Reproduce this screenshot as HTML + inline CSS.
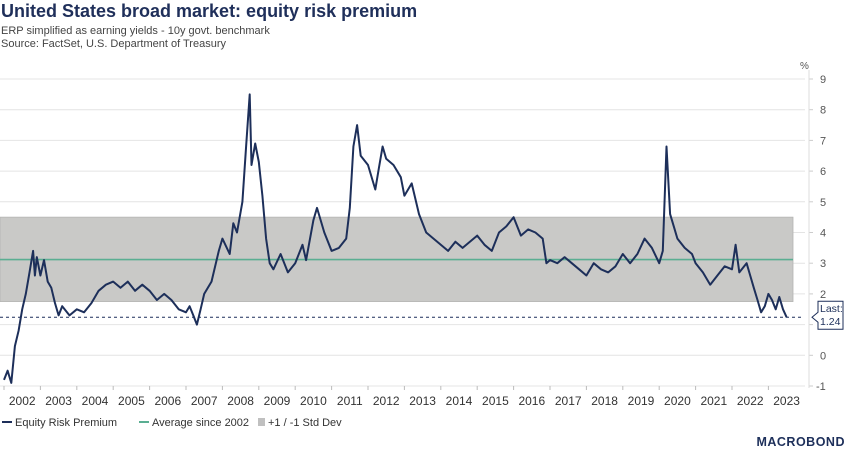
<!DOCTYPE html>
<html><head><meta charset="utf-8"><style>
body{margin:0;background:#fff;font-family:"Liberation Sans",sans-serif;}
#wrap{position:relative;width:850px;height:453px;overflow:hidden;}
.t{position:absolute;white-space:nowrap;}
</style></head><body>
<div id="wrap">
<div class="t" style="left:1px;top:1px;font-size:18px;font-weight:bold;color:#1f2f5a;">United States broad market: equity risk premium</div>
<div class="t" style="left:1px;top:25px;font-size:11px;color:#444;">ERP simplified as earning yields - 10y govt. benchmark</div>
<div class="t" style="left:1px;top:38px;font-size:11px;color:#444;">Source: FactSet, U.S. Department of Treasury</div>
<svg id="chart" width="850" height="453" style="position:absolute;left:0;top:0"></svg>
</div>
<script>
const yTicks=[-1,0,1,2,3,4,5,6,7,8,9];
const years=[2002,2003,2004,2005,2006,2007,2008,2009,2010,2011,2012,2013,2014,2015,2016,2017,2018,2019,2020,2021,2022,2023];
const avgValue=3.12;
const bandLow=1.75, bandHigh=4.5;
const lastValue=1.24;
const times=[2002.0,2002.1,2002.2,2002.3,2002.4,2002.5,2002.6,2002.7,2002.8,2002.85,2002.9,2003.0,2003.1,2003.2,2003.3,2003.4,2003.5,2003.6,2003.8,2004.0,2004.2,2004.4,2004.6,2004.8,2005.0,2005.2,2005.4,2005.6,2005.8,2006.0,2006.2,2006.4,2006.6,2006.8,2007.0,2007.1,2007.2,2007.3,2007.4,2007.5,2007.7,2007.9,2008.0,2008.2,2008.3,2008.4,2008.55,2008.65,2008.75,2008.8,2008.9,2009.0,2009.1,2009.2,2009.3,2009.4,2009.6,2009.8,2010.0,2010.2,2010.3,2010.5,2010.6,2010.8,2011.0,2011.2,2011.4,2011.5,2011.6,2011.7,2011.8,2012.0,2012.2,2012.3,2012.4,2012.5,2012.7,2012.9,2013.0,2013.2,2013.4,2013.6,2013.8,2014.0,2014.2,2014.4,2014.6,2014.8,2015.0,2015.2,2015.4,2015.6,2015.8,2016.0,2016.2,2016.4,2016.6,2016.8,2016.9,2017.0,2017.2,2017.4,2017.6,2017.8,2018.0,2018.2,2018.4,2018.6,2018.8,2019.0,2019.2,2019.4,2019.6,2019.8,2020.0,2020.1,2020.2,2020.3,2020.4,2020.5,2020.7,2020.9,2021.0,2021.2,2021.4,2021.6,2021.8,2022.0,2022.1,2022.2,2022.4,2022.5,2022.6,2022.7,2022.8,2022.9,2023.0,2023.1,2023.2,2023.3,2023.4,2023.5];
const erpValues=[-0.8,-0.5,-0.9,0.3,0.8,1.5,2.0,2.7,3.4,2.6,3.2,2.6,3.1,2.4,2.2,1.7,1.3,1.6,1.3,1.5,1.4,1.7,2.1,2.3,2.4,2.2,2.4,2.1,2.3,2.1,1.8,2.0,1.8,1.5,1.4,1.6,1.3,1.0,1.5,2.0,2.4,3.4,3.8,3.3,4.3,4.0,5.0,6.8,8.5,6.2,6.9,6.3,5.2,3.8,3.0,2.8,3.3,2.7,3.0,3.6,3.1,4.4,4.8,4.0,3.4,3.5,3.8,4.8,6.8,7.5,6.5,6.2,5.4,6.1,6.8,6.4,6.2,5.8,5.2,5.6,4.6,4.0,3.8,3.6,3.4,3.7,3.5,3.7,3.9,3.6,3.4,4.0,4.2,4.5,3.9,4.1,4.0,3.8,3.0,3.1,3.0,3.2,3.0,2.8,2.6,3.0,2.8,2.7,2.9,3.3,3.0,3.3,3.8,3.5,3.0,3.4,6.8,4.6,4.2,3.8,3.5,3.3,3.0,2.7,2.3,2.6,2.9,2.8,3.6,2.7,3.0,2.6,2.2,1.8,1.4,1.6,2.0,1.8,1.5,1.9,1.5,1.24];

const NS='http://www.w3.org/2000/svg';
const svg=document.getElementById('chart');
const X0=4, PXY=36.4, PLOT_R=805, BAND_R=793;
function xs(t){return X0+(t-2002)*PXY;}
function ys(v){return 355.3-v*30.7;}
function mk(tag,attrs,parent){const e=document.createElementNS(NS,tag);for(const k in attrs)e.setAttribute(k,attrs[k]);(parent||svg).appendChild(e);return e;}

yTicks.forEach(v=>{
  const g=mk('line',{x1:0,x2:PLOT_R,y1:ys(v),y2:ys(v),stroke:'#e4e4e4','stroke-width':1});
  
  
  const tk=mk('line',{x1:809,x2:813,y1:ys(v),y2:ys(v),stroke:'#ccc'});
  
  
  const l=mk('text',{x:v<0?816:820,y:ys(v)+4,'font-size':11,fill:'#555','font-family':'Liberation Sans, sans-serif'});
  l.textContent=v;
  
  
});
const ax=mk('line',{x1:809,x2:809,y1:70,y2:388,stroke:'#ddd'});


const pc=mk('text',{x:800,y:69,'font-size':10,fill:'#555'});pc.textContent='%';



const band=mk('rect',{x:0,y:ys(bandHigh),width:BAND_R,height:ys(bandLow)-ys(bandHigh),fill:'#c9c9c7',stroke:'#b5b5b3','stroke-width':0.8});


const avg=mk('line',{x1:0,x2:BAND_R,y1:ys(avgValue),y2:ys(avgValue),stroke:'#5aae92','stroke-width':1.6});


const ld=mk('line',{x1:0,x2:BAND_R+10,y1:ys(lastValue),y2:ys(lastValue),stroke:'#1d2f5a','stroke-width':1,'stroke-dasharray':'3,3'});



years.forEach(y=>{
  const tk=mk('line',{x1:xs(y),x2:xs(y),y1:386,y2:390,stroke:'#bbb'});
  
  
  const l=mk('text',{x:xs(y+0.5),y:405,'font-size':12,fill:'#333','text-anchor':'middle'});
  l.textContent=y;
  
  
});

let d='';
times.forEach((t,i)=>{d+=(i?'L':'M')+xs(t).toFixed(1)+','+ys(erpValues[i]).toFixed(1);});
const p=mk('path',{d:d,fill:'none',stroke:'#1d2f5a','stroke-width':2,'stroke-linejoin':'round'});



const lb=mk('path',{d:`M812,${ys(lastValue)} L818,${ys(lastValue)-5} L818,${ys(lastValue)-16} L843,${ys(lastValue)-16} L843,${ys(lastValue)+12} L818,${ys(lastValue)+12} L818,${ys(lastValue)+5} Z`,fill:'#fff',stroke:'#1d2f5a','stroke-width':1});


const lt1=mk('text',{x:820,y:ys(lastValue)-5,'font-size':10.5,fill:'#1d2f5a'});lt1.textContent='Last:';


const lt2=mk('text',{x:820,y:ys(lastValue)+8,'font-size':10.5,fill:'#1d2f5a'});lt2.textContent=lastValue.toFixed(2);



function leg(x,color,text,name,sq){
  if(sq){const r=mk('rect',{x:x,y:418,width:7,height:8,fill:color});}
  else{const l=mk('line',{x1:x,x2:x+10,y1:422,y2:422,stroke:color,'stroke-width':2});}
  const t=mk('text',{x:x+(sq?10:13),y:426,'font-size':11,fill:'#333'});t.textContent=text;
  
  
}
leg(2,'#1d2f5a','Equity Risk Premium','legend-entry-erp');
leg(139,'#5aae92','Average since 2002','legend-entry-average');
leg(258,'#c0c0c0','+1 / -1 Std Dev','legend-entry-band',true);

const logo=mk('text',{x:845,y:446,'font-size':12.5,'font-weight':'bold',fill:'#1d2f5a','text-anchor':'end','letter-spacing':'0.5'});
logo.textContent='MACROBOND';


</script>
</body></html>
